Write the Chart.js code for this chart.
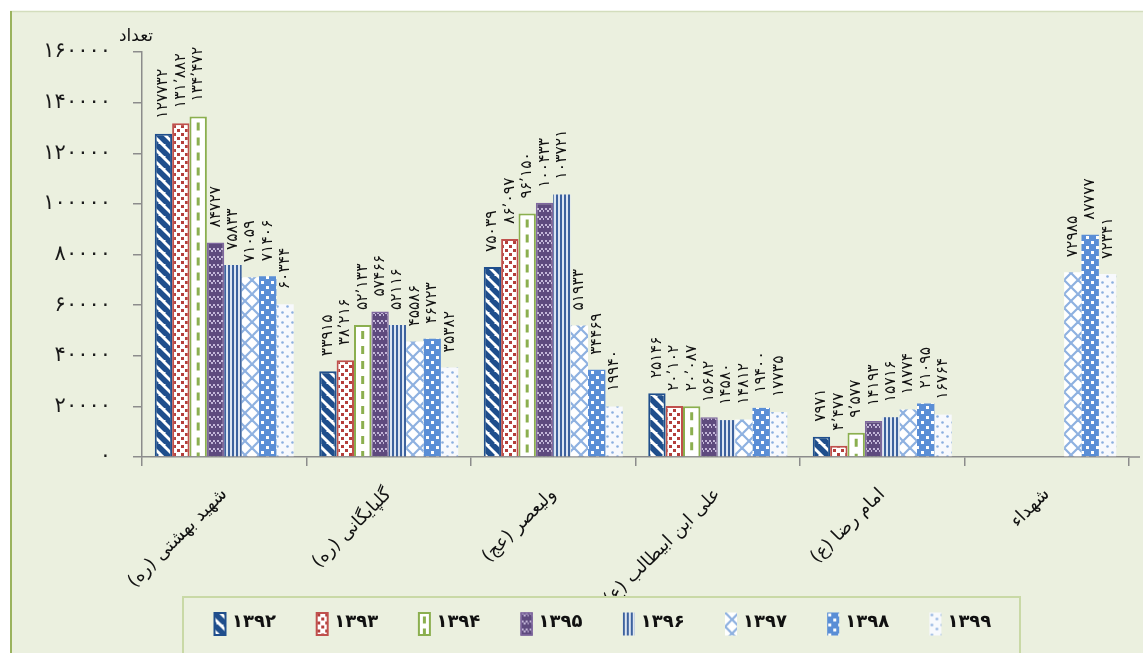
<!DOCTYPE html>
<html lang="fa">
<head>
<meta charset="utf-8">
<script src="https://cdn.jsdelivr.net/npm/chart.js@4.4.1/dist/chart.umd.min.js"></script>
<style>
  html, body { margin: 0; padding: 0; background: #ffffff; }
  #wrap { width: 1143px; height: 653px; position: relative; }
</style>
</head>
<body>
<div id="wrap"><canvas id="chart" width="1143" height="653" dir="rtl"></canvas></div>
<script>
// Hospitals (categories) and years (series)
const categories = ['شهید بهشتی (ره)', 'گلپایگانی (ره)', 'ولیعصر (عج)', 'علی ابن ابیطالب (ع)', 'امام رضا (ع)', 'شهداء'];
const years = ['۱۳۹۲', '۱۳۹۳', '۱۳۹۴', '۱۳۹۵', '۱۳۹۶', '۱۳۹۷', '۱۳۹۸', '۱۳۹۹'];

const v1392 = [127732, 33915, 75039, 25146, 7971, null];
const v1393 = [131882, 38216, 86097, 20102, 4477, null];
const v1394 = [134472, 52133, 96150, 20087, 9577, null];
const v1395 = [84727, 57466, 100433, 15682, 14193, null];
const v1396 = [75833, 52116, 103721, 14580, 15716, null];
const v1397 = [71059, 45586, 51933, 14812, 18774, 72985];
const v1398 = [71406, 46723, 34469, 19400, 21095, 87777];
const v1399 = [60344, 35382, 19940, 17735, 16764, 72341];
const seriesValues = [v1392, v1393, v1394, v1395, v1396, v1397, v1398, v1399];

// Series whose value labels carry a thousands separator
const separatedSeries = ['۱۳۹۳', '۱۳۹۴'];

const yTicks = { min: 0, max: 160000, step: 20000 };
const yTitle = 'تعداد';

const FA_DIGITS = '۰۱۲۳۴۵۶۷۸۹';
function toFa(str) { return String(str).replace(/\d/g, d => FA_DIGITS[d]); }
function valueLabel(year, v) {
  let s = String(v);
  if (separatedSeries.includes(year) && v >= 1000) {
    s = s.slice(0, s.length - 3) + '٬' + s.slice(-3);
  }
  return toFa(s);
}

const BG = '#EBF0DF';
const AXIS = '#8C8C8C';
const FONT = 'DejaVu Sans';

// ---- fill patterns ----
function tile(w, h, paint) {
  const c = document.createElement('canvas');
  c.width = w; c.height = h;
  const g = c.getContext('2d');
  paint(g, w, h);
  return g.createPattern(c, 'repeat');
}
const patterns = [
  tile(12, 12, g => {           // wide diagonal stripes
    g.fillStyle = '#ffffff'; g.fillRect(0, 0, 12, 12);
    g.strokeStyle = '#1F4E8C'; g.lineWidth = 5.5;
    [-12, 0, 12].forEach(o => { g.beginPath(); g.moveTo(o - 1, -1); g.lineTo(o + 13, 13); g.stroke(); });
  }),
  tile(8, 8, g => {             // small red squares
    g.fillStyle = '#ffffff'; g.fillRect(0, 0, 8, 8);
    g.fillStyle = '#B43E3B';
    g.fillRect(1, 1, 3, 3); g.fillRect(5, 5, 3, 3);
  }),
  '#ffffff',                    // plain, dashed centre line drawn separately
  tile(8, 8, g => {             // purple check
    g.fillStyle = '#5E4A7E'; g.fillRect(0, 0, 8, 8);
    g.fillStyle = '#C3B6D8';
    g.fillRect(1, 0, 2, 2); g.fillRect(5, 0, 2, 2);
    g.fillRect(3, 2, 2, 2); g.fillRect(7, 2, 1, 2);
  }),
  tile(4, 4, g => {             // vertical stripes
    g.fillStyle = '#DDE6F2'; g.fillRect(0, 0, 4, 4);
    g.fillStyle = '#3D629E'; g.fillRect(0, 0, 2, 4);
  }),
  tile(14, 14, g => {           // diagonal lattice
    g.fillStyle = '#ffffff'; g.fillRect(0, 0, 14, 14);
    g.strokeStyle = '#8EB1E0'; g.lineWidth = 2.2;
    g.beginPath(); g.moveTo(0, 0); g.lineTo(14, 14); g.stroke();
    g.beginPath(); g.moveTo(14, 0); g.lineTo(0, 14); g.stroke();
  }),
  tile(10, 10, g => {           // blue with white squares
    g.fillStyle = '#5A8ED6'; g.fillRect(0, 0, 10, 10);
    g.fillStyle = '#ffffff';
    g.fillRect(1, 1, 3, 3); g.fillRect(6, 6, 3, 3);
  }),
  tile(10, 10, g => {           // light dots
    g.fillStyle = '#F7F9FD'; g.fillRect(0, 0, 10, 10);
    g.fillStyle = '#8AAEE0';
    g.beginPath(); g.arc(2.5, 2.5, 1.3, 0, Math.PI * 2); g.fill();
    g.beginPath(); g.arc(7.5, 6.5, 1.3, 0, Math.PI * 2); g.fill();
  })
];
const borders = ['#1F4E8C', '#C0504D', '#8BAF4F', '#7F679F', null, null, null, null];
const borderWidths = [2, 2, 2, 1.5, 0, 0, 0, 0];
const DASH_SERIES = 2;
const DASH_COLOR = '#8BAF4F';

const datasets = years.map((y, i) => ({
  label: y,
  data: seriesValues[i],
  backgroundColor: patterns[i],
  borderColor: borders[i] || 'rgba(0,0,0,0)',
  borderWidth: borderWidths[i],
  borderSkipped: 'bottom'
}));

// ---- plugins ----
const backgroundPlugin = {
  id: 'panel',
  beforeDraw(chart) {
    const { ctx, width, height } = chart;
    ctx.save();
    ctx.fillStyle = '#ffffff'; ctx.fillRect(0, 0, width, height);
    ctx.fillStyle = BG; ctx.fillRect(10, 11, width - 10, height - 11);
    ctx.strokeStyle = '#D3DDBD'; ctx.lineWidth = 1.5;
    ctx.beginPath(); ctx.moveTo(10, 11.5); ctx.lineTo(width, 11.5); ctx.stroke();
    ctx.strokeStyle = '#9AB35E'; ctx.lineWidth = 2;
    ctx.beginPath(); ctx.moveTo(11, 11); ctx.lineTo(11, height); ctx.stroke();
    ctx.restore();
  }
};

const barDecorPlugin = {
  id: 'barDecor',
  afterDatasetsDraw(chart) {
    const ctx = chart.ctx;
    // dashed centre line of the plain series
    const meta = chart.getDatasetMeta(DASH_SERIES);
    ctx.save();
    ctx.strokeStyle = DASH_COLOR; ctx.lineWidth = 3; ctx.setLineDash([8, 7]);
    meta.data.forEach((el, j) => {
      if (chart.data.datasets[DASH_SERIES].data[j] == null) return;
      ctx.beginPath(); ctx.moveTo(el.x, el.y + 6); ctx.lineTo(el.x, el.base); ctx.stroke();
    });
    ctx.restore();

    // rotated value labels above each bar
    ctx.save();
    ctx.fillStyle = '#111111';
    ctx.font = '15.5px "' + FONT + '"';
    ctx.textAlign = 'left';
    ctx.textBaseline = 'middle';
    chart.data.datasets.forEach((ds, i) => {
      chart.getDatasetMeta(i).data.forEach((el, j) => {
        const v = ds.data[j];
        if (v == null) return;
        ctx.save();
        ctx.translate(el.x, el.y - 15);
        ctx.rotate(-Math.PI / 2);
        ctx.fillText(valueLabel(ds.label, v), 0, 0);
        ctx.restore();
      });
    });
    ctx.restore();
  },
  afterDraw(chart) {
    const ctx = chart.ctx;
    const area = chart.chartArea;
    // short run-out of the category axis past the last tick
    ctx.save();
    ctx.strokeStyle = AXIS; ctx.lineWidth = 1.5;
    ctx.beginPath(); ctx.moveTo(area.right, area.bottom); ctx.lineTo(area.right + 11, area.bottom); ctx.stroke();
    ctx.restore();

    // axis title
    ctx.save();
    ctx.fillStyle = '#111111';
    ctx.font = '17px "' + FONT + '"';
    ctx.textAlign = 'center'; ctx.textBaseline = 'middle';
    ctx.fillText(yTitle, area.left - 6, area.top - 15);
    ctx.restore();

    // legend frame and entries
    const fx = 183, fy = 597, fw = 837;
    ctx.save();
    ctx.fillStyle = BG;
    ctx.fillRect(fx, fy, fw, chart.height - fy + 5);
    ctx.strokeStyle = '#C9D9A6'; ctx.lineWidth = 2;
    ctx.strokeRect(fx, fy, fw, chart.height - fy + 10);
    const step = 102.2, x0 = 214, bw = 12, bh = 23, cy = 624;
    chart.data.datasets.forEach((ds, i) => {
      const x = x0 + i * step, y = cy - bh / 2;
      ctx.save();
      ctx.translate(x, y);
      ctx.fillStyle = ds.backgroundColor;
      ctx.fillRect(0, 0, bw, bh);
      if (i === DASH_SERIES) {
        ctx.strokeStyle = DASH_COLOR; ctx.lineWidth = 3; ctx.setLineDash([7, 5]);
        ctx.beginPath(); ctx.moveTo(bw / 2, 4); ctx.lineTo(bw / 2, bh); ctx.stroke();
        ctx.setLineDash([]);
      }
      if (borderWidths[i] > 0) {
        ctx.strokeStyle = borders[i]; ctx.lineWidth = borderWidths[i];
        ctx.strokeRect(0.5, 0.5, bw - 1, bh - 1);
      }
      ctx.restore();
      ctx.fillStyle = '#111111';
      ctx.font = 'bold 18px "' + FONT + '"';
      ctx.textAlign = 'left'; ctx.textBaseline = 'middle';
      ctx.fillText(ds.label, x + bw + 6, cy - 2);
    });
    ctx.restore();
  }
};

new Chart(document.getElementById('chart'), {
  type: 'bar',
  data: { labels: categories, datasets },
  plugins: [backgroundPlugin, barDecorPlugin],
  options: {
    responsive: false,
    animation: false,
    devicePixelRatio: 1,
    layout: { padding: { top: 52, right: 14, bottom: 56, left: 0 } },
    datasets: { bar: { categoryPercentage: 0.845, barPercentage: 1.0 } },
    plugins: { legend: { display: false }, tooltip: { enabled: false }, title: { display: false } },
    scales: {
      x: {
        ticks: {
          font: { family: FONT, size: 18 }, color: '#111111',
          minRotation: 45, maxRotation: 45, autoSkip: false, padding: 18
        },
        grid: { drawOnChartArea: false, offset: true, tickLength: 9, color: AXIS, lineWidth: 1.5 },
        border: { color: AXIS, width: 1.5 },
        afterFit: s => { s.height = 140; }
      },
      y: {
        min: yTicks.min, max: yTicks.max,
        ticks: {
          stepSize: yTicks.step, callback: v => toFa(v),
          font: { family: FONT, size: 21 }, color: '#1a1a1a', padding: 22
        },
        grid: { drawOnChartArea: false, tickLength: 9, color: AXIS, lineWidth: 1.5 },
        border: { color: AXIS, width: 1.5 },
        afterFit: s => { s.width = 142; }
      }
    }
  }
});
</script>
</body>
</html>
